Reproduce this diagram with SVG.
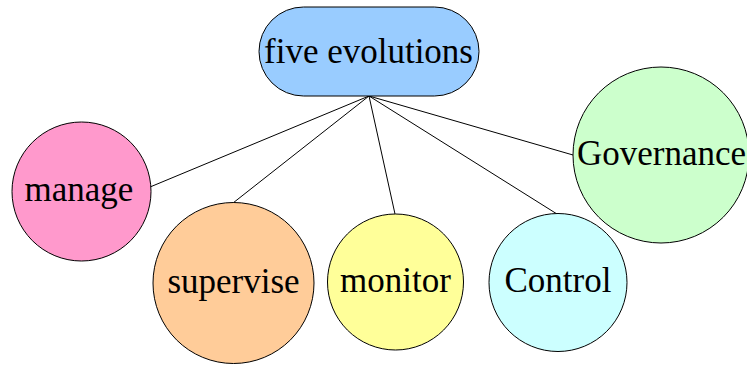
<svg xmlns="http://www.w3.org/2000/svg" width="747" height="365" viewBox="0 0 747 365">
  <style>
    .node { stroke: #000; stroke-width: 1; }
    .label { font-family: "Liberation Serif", "Times New Roman", serif; font-size: 35px; fill: #000; text-anchor: middle; }
    .edge { stroke: #000; stroke-width: 1; fill: none; }
  </style>
  <rect width="747" height="365" fill="#fff"/>
  <g id="edges">
    <line class="edge" x1="369" y1="96" x2="150" y2="187"/>
    <line class="edge" x1="369" y1="96" x2="233" y2="203"/>
    <line class="edge" x1="369" y1="96" x2="395" y2="214"/>
    <line class="edge" x1="369" y1="96" x2="557" y2="214"/>
    <line class="edge" x1="369" y1="96" x2="573" y2="155"/>
  </g>
  <g id="five-evolutions">
    <rect class="node" x="259" y="7" width="220" height="89" rx="44.5" ry="44.5" fill="#99ccff"/>
    <text class="label" x="368.5" y="63">five evolutions</text>
  </g>
  <g id="manage">
    <circle class="node" cx="81.5" cy="191.5" r="69.5" fill="#ff99cc"/>
    <text class="label" x="79" y="201">manage</text>
  </g>
  <g id="supervise">
    <circle class="node" cx="233.5" cy="283" r="80.5" fill="#ffcc99"/>
    <text class="label" x="233.5" y="293">supervise</text>
  </g>
  <g id="monitor">
    <circle class="node" cx="395.5" cy="282" r="68" fill="#ffff99"/>
    <text class="label" x="395.5" y="292">monitor</text>
  </g>
  <g id="control">
    <circle class="node" cx="558" cy="282.5" r="69" fill="#ccffff"/>
    <text class="label" x="558" y="292">Control</text>
  </g>
  <g id="governance">
    <circle class="node" cx="661" cy="155" r="88" fill="#ccffcc"/>
    <text class="label" x="661.5" y="165">Governance</text>
  </g>
</svg>
